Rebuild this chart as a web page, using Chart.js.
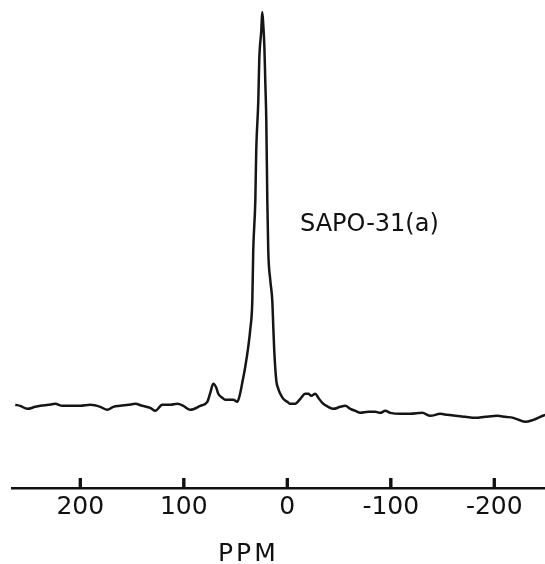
<!DOCTYPE html>
<html>
<head>
<meta charset="utf-8">
<script src="https://cdn.jsdelivr.net/npm/chart.js@4.4.1/dist/chart.umd.min.js"></script>
<style>
    html, body { margin: 0; padding: 0; background: #fff; }
    #wrap { position: relative; width: 545px; height: 564px; }
    .lbl {
        position: absolute;
        font-family: "DejaVu Sans", sans-serif;
        color: #111;
        line-height: 1;
        white-space: nowrap;
    }
</style>
</head>
<body>
<div id="wrap">
    <canvas id="chart" width="545" height="564"></canvas>
    <div class="lbl" style="left:300px; top:211px; font-size:24px;">SAPO-31(a)</div>
    <div class="lbl" style="left:218px; top:540px; font-size:25px; letter-spacing:3px;">PPM</div>
</div>
<script>
// chemical shift (ppm) and signal height
const ppm = [
    262.8, 258.0, 251.2, 243.5, 238.6, 230.9, 224.2, 217.4, 209.7, 200.0,
    190.3, 180.7, 173.9, 168.1, 161.4, 153.6, 146.9, 140.1, 132.4, 127.5,
    120.8, 113.0, 106.3, 100.5, 93.7, 84.1, 77.3, 74.4, 71.5, 68.6,
    66.7, 62.8, 59.9, 56.0, 52.2, 48.3, 45.4, 43.5, 40.6, 37.7,
    35.7, 33.8, 32.9, 30.9, 30.0, 28.0, 27.1, 25.1, 24.2, 23.2,
    22.2, 21.3, 20.3, 19.3, 18.4, 16.4, 14.5, 13.5, 12.6, 10.6,
    8.7, 6.8, 3.9, 0, -2.9, -7.7, -12.6, -17.4, -20.3, -23.2,
    -27.1, -30.0, -33.8, -39.6, -44.4, -51.2, -56.0, -60.9, -65.7, -70.5,
    -78.3, -85.0, -89.9, -94.7, -99.5, -109.2, -118.8, -130.4, -138.2, -147.8,
    -154.6, -162.3, -172.0, -181.6, -191.3, -202.9, -210.6, -218.4, -230.0, -237.7,
    -244.4, -249.3
];
const intensity = [
    6, 5, 2, 4, 5, 6, 7, 5, 5, 5,
    6, 4, 1, 4, 5, 6, 7, 5, 3, 0,
    6, 6, 7, 5, 1, 5, 9, 18, 27, 23,
    17, 13, 11, 11, 11, 9, 18, 28, 44, 64,
    82, 110, 160, 210, 260, 310, 350, 380, 398, 385,
    365, 330, 290, 210, 160, 130, 110, 83, 60, 30,
    22, 17, 12, 9, 7, 7, 12, 17, 17, 15,
    17, 13, 8, 4, 2, 4, 5, 2, 0, -2,
    -1, -1, -2, 0, -2, -3, -3, -2, -5, -3,
    -4, -5, -6, -7, -6, -5, -6, -7, -11, -9,
    -6, -4
];
const tickValues = [200, 100, 0, -100, -200];

const points = ppm.map((x, i) => ({ x: x, y: intensity[i] }));

function drawUpTicks(chart) {
    const sx = chart.scales.x;
    const c = chart.ctx;
    c.save();
    c.fillStyle = '#111';
    tickValues.forEach(v => {
        const px = sx.getPixelForValue(v);
        c.fillRect(px - 1.5, sx.top - 10, 3, 11);
    });
    c.restore();
}

// short tick marks pointing up from the axis line
const upTicks = {
    id: 'upTicks',
    afterDatasetsDraw: chart => drawUpTicks(chart),
    afterDraw: chart => drawUpTicks(chart)
};

new Chart(document.getElementById('chart'), {
    type: 'line',
    data: {
        datasets: [{
            data: points,
            borderColor: '#151515',
            borderWidth: 2.5,
            pointRadius: 0,
            cubicInterpolationMode: 'monotone',
            fill: false
        }]
    },
    options: {
        responsive: false,
        animation: false,
        layout: { padding: { left: 12, right: 0, top: 10, bottom: 38 } },
        plugins: {
            legend: { display: false },
            tooltip: { enabled: false }
        },
        scales: {
            x: {
                type: 'linear',
                reverse: true,
                min: -249,
                max: 266,
                afterBuildTicks: scale => {
                    scale.ticks = tickValues.map(v => ({ value: v }));
                },
                grid: { drawOnChartArea: false, drawTicks: false },
                border: { display: true, color: '#111', width: 2.5 },
                ticks: {
                    padding: 4,
                    color: '#111',
                    maxRotation: 0,
                    font: { family: 'DejaVu Sans', size: 25 },
                    callback: v => v < 0 ? '-' + Math.abs(v) : String(v)
                }
            },
            y: {
                display: false,
                min: -77,
                max: 400
            }
        }
    },
    plugins: [upTicks]
});
</script>
</body>
</html>
